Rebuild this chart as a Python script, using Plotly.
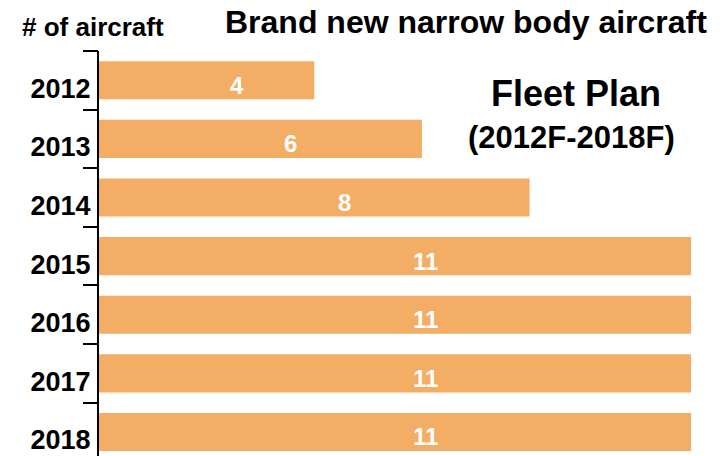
import plotly.graph_objects as go

years = ["2012", "2013", "2014", "2015", "2016", "2017", "2018"]
aircraft = [4, 6, 8, 11, 11, 11, 11]

BAR = "#F4AD65"
FONT = "Liberation Sans, Arial, sans-serif"

pos = list(range(len(years)))

fig = go.Figure()
fig.add_trace(go.Bar(
    x=aircraft, y=pos, orientation="h",
    marker=dict(color=BAR, line=dict(width=0)),
    width=0.65, hoverinfo="skip", showlegend=False,
))
# invisible trace on overlay axis for boundary ticks
fig.add_trace(go.Scatter(x=[None], y=[None], yaxis="y2", showlegend=False))

for i, v in enumerate(aircraft):
    fig.add_annotation(
        x=v / 2, y=i, text=f"<b>{v}</b>", showarrow=False,
        xshift=30, yshift=-5,
        font=dict(family=FONT, size=24, color="white"),
    )

fig.add_annotation(xref="paper", yref="paper", x=(465.5 - 99) / 592, y=1 + (51 - 22) / 405,
                   text="<b>Brand new narrow body aircraft</b>", showarrow=False,
                   xanchor="center", yanchor="middle",
                   font=dict(family=FONT, size=32, color="black"))
fig.add_annotation(xref="paper", yref="paper", x=(93 - 99) / 592, y=1 + (51 - 27) / 405,
                   text="<b># of aircraft</b>", showarrow=False,
                   xanchor="center", yanchor="middle",
                   font=dict(family=FONT, size=26, color="black"))
fig.add_annotation(xref="paper", yref="paper", x=(576 - 99) / 592, y=1 - (93 - 51) / 405,
                   text="<b>Fleet Plan</b>", showarrow=False,
                   xanchor="center", yanchor="middle",
                   font=dict(family=FONT, size=36, color="black"))
fig.add_annotation(xref="paper", yref="paper", x=(571.5 - 99) / 592, y=1 - (137 - 51) / 405,
                   text="<b>(2012F-2018F)</b>", showarrow=False,
                   xanchor="center", yanchor="middle",
                   font=dict(family=FONT, size=31, color="black"))

# page body has an 8px default margin; figure is sized/offset to compensate
yr = [len(years) - 0.59, -0.5]
fig.update_layout(
    width=712, height=448,
    margin=dict(l=91, r=29, t=43, b=0, autoexpand=False),
    paper_bgcolor="white", plot_bgcolor="white",
    xaxis=dict(range=[0, 11], visible=False, fixedrange=True, automargin=False),
    yaxis=dict(
        range=yr, tickmode="array", tickvals=pos,
        ticktext=[f"<b>{y}</b>" for y in years],
        ticks="", showgrid=False, zeroline=False, automargin=False,
        showline=True, linecolor="black", linewidth=2,
        tickfont=dict(family=FONT, size=27, color="black"),
        ticklabelstandoff=1, ticklabelshift=-8,
    ),
    yaxis2=dict(
        overlaying="y", side="left", range=yr, automargin=False,
        tickmode="array", tickvals=[p - 0.5 for p in pos] + [len(years) - 0.5],
        ticks="outside", ticklen=15, tickwidth=2, tickcolor="black",
        showticklabels=False, showgrid=False, zeroline=False, showline=False,
    ),
    bargap=0.35,
)

fig.write_html("out.html")
